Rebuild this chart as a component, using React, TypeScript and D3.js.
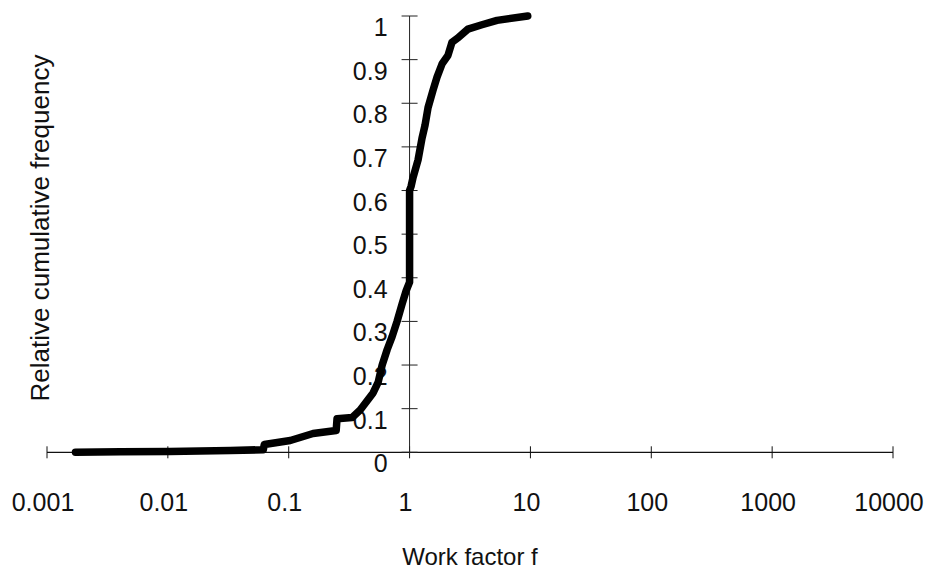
import React, { useRef, useEffect } from "react";
import * as d3 from "d3";

// work factor f (log scale) and relative cumulative frequency
const workFactor = [
  0.00172, 0.00405, 0.0103, 0.0329, 0.0616, 0.0628, 0.103, 0.159, 0.247, 0.251,
  0.335, 0.39, 0.499, 0.549, 0.593, 0.652, 0.717, 0.788, 0.867, 0.936, 1.0, 1.0,
  1.03, 1.069, 1.175, 1.268, 1.343, 1.422, 1.563, 1.687, 1.856, 2.08, 2.245,
  2.52, 3.04, 3.97, 5.29, 9.5,
];
const cumFreq = [
  0, 0.001, 0.002, 0.004, 0.006, 0.018, 0.027, 0.043, 0.05, 0.077, 0.08, 0.097,
  0.136, 0.16, 0.2, 0.235, 0.265, 0.3, 0.34, 0.37, 0.39, 0.6, 0.61, 0.63, 0.67,
  0.72, 0.75, 0.79, 0.83, 0.86, 0.89, 0.91, 0.94, 0.95, 0.97, 0.98, 0.99, 1.0,
];

const xTicks = [0.001, 0.01, 0.1, 1, 10, 100, 1000, 10000];
const xTickLabels = ["0.001", "0.01", "0.1", "1", "10", "100", "1000", "10000"];
const yTicks = [0, 0.1, 0.2, 0.3, 0.4, 0.5, 0.6, 0.7, 0.8, 0.9, 1];
const yTickLabels = ["0", "0.1", "0.2", "0.3", "0.4", "0.5", "0.6", "0.7", "0.8", "0.9", "1"];

const App = () => {
  const svgRef = useRef<SVGSVGElement>(null);

  useEffect(() => {
    const width = 927;
    const height = 572;
    const font = "'Liberation Sans', Arial, sans-serif";

    const x = d3.scaleLog().domain([0.001, 10000]).range([47, 893]);
    const y = d3.scaleLinear().domain([0, 1]).range([452.3, 16]);

    const svg = d3.select(svgRef.current)
      .attr("width", width)
      .attr("height", height)
      .attr("viewBox", [0, 0, width, height] as any);
    svg.selectAll("*").remove();

    svg.append("rect").attr("width", width).attr("height", height).attr("fill", "#fff");

    // x axis (crossing ticks)
    const xa = svg.append("g").attr("stroke", "#111");
    xa.append("line")
      .attr("x1", x(0.001)).attr("x2", x(10000))
      .attr("y1", y(0)).attr("y2", y(0))
      .attr("stroke-width", 1.3);
    xa.selectAll("line.tick")
      .data(xTicks)
      .join("line")
      .attr("class", "tick")
      .attr("x1", d => x(d)).attr("x2", d => x(d))
      .attr("y1", y(0) - 6).attr("y2", y(0) + 6)
      .attr("stroke-width", 1);

    svg.append("g")
      .attr("font-family", font)
      .attr("font-size", 25)
      .attr("fill", "#111")
      .attr("text-anchor", "middle")
      .selectAll("text")
      .data(xTicks)
      .join("text")
      .attr("x", d => x(d) - 4)
      .attr("y", 511)
      .text((d, i) => xTickLabels[i]);

    // y axis sits at f = 1
    const ya = svg.append("g").attr("stroke", "#222");
    ya.append("line")
      .attr("x1", x(1)).attr("x2", x(1))
      .attr("y1", y(0)).attr("y2", y(1))
      .attr("stroke-width", 1);
    ya.selectAll("line.tick")
      .data(yTicks)
      .join("line")
      .attr("class", "tick")
      .attr("x1", x(1) - 8).attr("x2", x(1) + 8)
      .attr("y1", d => y(d)).attr("y2", d => y(d))
      .attr("stroke-width", 1);

    svg.append("g")
      .attr("font-family", font)
      .attr("font-size", 25)
      .attr("fill", "#111")
      .attr("text-anchor", "end")
      .selectAll("text")
      .data(yTicks)
      .join("text")
      .attr("x", x(1) - 22)
      .attr("y", d => y(d) + 20)
      .text((d, i) => yTickLabels[i]);

    // the cumulative curve
    const pts = workFactor.map((f, i) => [f, cumFreq[i]] as [number, number]);
    const line = d3.line<[number, number]>()
      .x(d => x(d[0]))
      .y(d => y(d[1]));
    svg.append("path")
      .datum(pts)
      .attr("d", line)
      .attr("fill", "none")
      .attr("stroke", "#000")
      .attr("stroke-width", 7.5)
      .attr("stroke-linejoin", "round")
      .attr("stroke-linecap", "round");

    // axis titles
    svg.append("text")
      .attr("x", 470)
      .attr("y", 565)
      .attr("text-anchor", "middle")
      .attr("font-family", font)
      .attr("font-size", 24)
      .attr("fill", "#111")
      .text("Work factor f");

    svg.append("text")
      .attr("transform", "translate(49,228) rotate(-90)")
      .attr("text-anchor", "middle")
      .attr("font-family", font)
      .attr("font-size", 26)
      .attr("fill", "#111")
      .text("Relative cumulative frequency");
  }, []);

  return (
    <svg ref={svgRef} style={{ position: "absolute", left: 0, top: 0, display: "block" }} />
  );
};

export default App;
